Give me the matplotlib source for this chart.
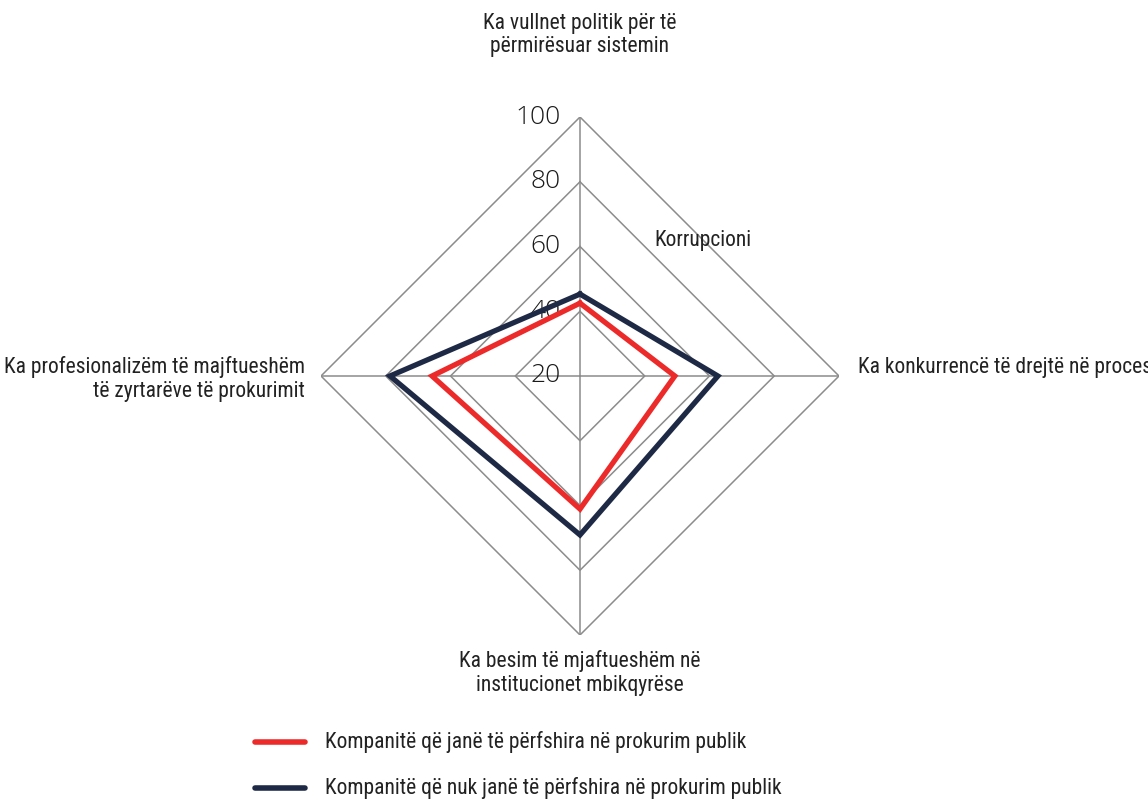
import numpy as np
import matplotlib.pyplot as plt
from matplotlib.transforms import ScaledTranslation

kategorite = ["Ka vullnet politik për të\npërmirësuar sistemin",
              "Ka konkurrencë të drejtë në proces",
              "Ka besim të mjaftueshëm në\ninstitucionet mbikqyrëse",
              "Ka profesionalizëm të majftueshëm\ntë zyrtarëve të prokurimit"]
perfshira = [42.5, 49.3, 61.1, 65.7]
jo_perfshira = [45.3, 62.6, 69.1, 78.7]
seri_emrat = ["Kompanitë që janë të përfshira në prokurim publik",
              "Kompanitë që nuk janë të përfshira në prokurim publik"]
nivelet = [20, 40, 60, 80, 100]

fig = plt.figure(figsize=(11.48, 8), dpi=100)
W, H = 1148, 800
cx, cy, R = 580, 376, 259
ax = fig.add_axes([(cx - R) / W, (H - cy - R) / H, 2 * R / W, 2 * R / H], projection="polar")
ax.set_theta_offset(np.pi / 2)
ax.set_theta_direction(-1)
ax.set_ylim(20, 100)
ax.axis("off")

kende = np.arange(len(kategorite)) * 2 * np.pi / len(kategorite)
kende_m = np.append(kende, kende[0])

# rrjeta
for n in nivelet[1:]:
    ax.plot(kende_m, [n] * len(kende_m), color="#8c8c8c", lw=1.1, zorder=1)
for k in kende:
    ax.plot([k, k], [20, 100], color="#8c8c8c", lw=1.1, zorder=1)

zhvendos = ax.transData + ScaledTranslation(-0.19, 0, fig.dpi_scale_trans)
for n in nivelet:
    ax.text(0, n, str(n), ha="right", va="center", fontsize=19, transform=zhvendos,
            family=["Open Sans", "DejaVu Sans"], fontweight=300, color="#1a1a1a", zorder=2)

ax.plot(kende_m, np.append(perfshira, perfshira[0]), color="#ec2a2a", lw=3.8, zorder=3,
        solid_joinstyle="miter")
ax.plot(kende_m, np.append(jo_perfshira, jo_perfshira[0]), color="#1e2a45", lw=3.8, zorder=3,
        solid_joinstyle="miter")

st = dict(family=["Roboto Condensed", "DejaVu Sans"], color="#222222")
fs = 15.5
ax.text(np.deg2rad(42.3), 76.4, "Korrupcioni", ha="center", va="center", fontsize=fs, **st)

# etiketat e kategorive
fig.text(cx / W, 1 - 35 / H, kategorite[0], ha="center", va="center", fontsize=fs,
         linespacing=1.15, **st)
fig.text(858 / W, 1 - 367 / H, kategorite[1], ha="left", va="center", fontsize=fs, **st)
fig.text(cx / W, 1 - 673 / H, kategorite[2], ha="center", va="center", fontsize=fs,
         linespacing=1.15, **st)
fig.text(305 / W, 1 - 379 / H, kategorite[3], ha="right", va="center", fontsize=fs,
         linespacing=1.15, multialignment="right", **st)

# legjenda
ngjyrat = ["#ec2a2a", "#1e2a45"]
for i in range(2):
    y = 1 - (742 + i * 46) / H
    fig.add_artist(plt.Line2D([255 / W, 305 / W], [y, y], color=ngjyrat[i], lw=4,
                              solid_capstyle="round", transform=fig.transFigure))
    fig.text(325 / W, y, seri_emrat[i], ha="left", va="center", fontsize=fs, **st)

fig.savefig("out.png", dpi=100)
